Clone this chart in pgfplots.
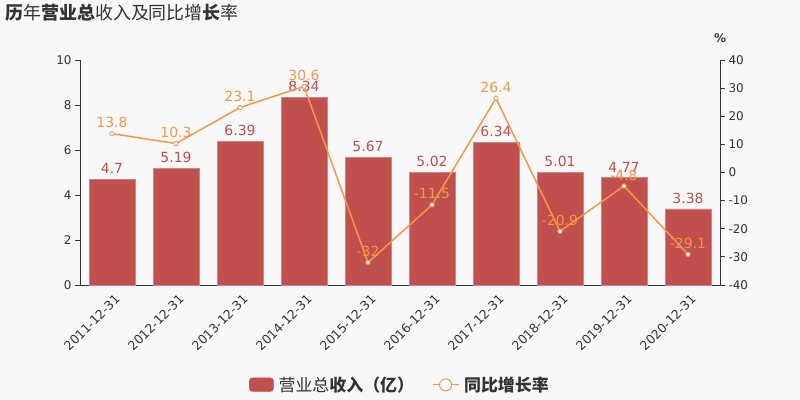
\documentclass[border=0pt]{standalone}
\usepackage{pgfplots}
\pgfplotsset{compat=1.18}
\usepackage{fontspec}
\setmainfont{DejaVu Sans}
\newfontfamily\cjk{Noto Sans CJK SC}

\definecolor{bg}{HTML}{F8F8F8}
\definecolor{barred}{HTML}{C0504D}
\definecolor{lineor}{HTML}{F79646}
\definecolor{axgray}{HTML}{333333}

\begin{document}
\begin{tikzpicture}
\fill[bg] (0,0) rectangle (800bp,400bp);

\pgfplotsset{
  base/.style={
    scale only axis, width=640bp, height=225bp,
    at={(80bp,115bp)}, anchor=south west,
    xmin=-0.5, xmax=9.5, clip=false,
    /pgf/number format/assume math mode=true,
    axis line style={axgray, line width=0.8pt},
    tick style={axgray, line width=0.8pt},
    tick align=outside,
    major tick length=5bp,
    tick label style={font=\fontsize{12}{14}\selectfont, text=axgray},
  },
}

\begin{axis}[base,
    axis x line*=bottom, axis y line*=left,
    ymin=0, ymax=10, ytick={0,2,...,10},
    xtick={0,...,9},
    xticklabels={2011-12-31,2012-12-31,2013-12-31,2014-12-31,2015-12-31,2016-12-31,2017-12-31,2018-12-31,2019-12-31,2020-12-31},
    x tick style={draw=none},
    extra x ticks={-0.5,0.5,...,9.5},
    extra x tick labels={},
    extra x tick style={x tick style={axgray, line width=0.8pt}, major tick length=5bp},
    xticklabel style={rotate=45, anchor=north east, inner sep=1bp, yshift=-3bp,
      font=\fontsize{12.5}{14}\selectfont},
    ybar, bar width=46bp,
    nodes near coords,
    every node near coord/.append style={font=\fontsize{14}{16}\selectfont, text=barred, yshift=2bp},
  ]
\addplot[fill=barred, draw=barred!70!white, line width=0.4pt] coordinates {
 (0,4.7) (1,5.19) (2,6.39) (3,8.34) (4,5.67) (5,5.02) (6,6.34) (7,5.01) (8,4.77) (9,3.38)};
\end{axis}

\begin{axis}[base,
    axis x line=none, axis y line*=right,
    ymin=-40, ymax=40, ytick={-40,-30,...,40},
    nodes near coords,
    nodes near coords align={anchor=south},
    every node near coord/.append style={font=\fontsize{14}{16}\selectfont, text=lineor, anchor=south, yshift=2bp},
    legend style={at={(0.5,-0.444)}, anchor=center, draw=none, fill=none,
      legend columns=2, font=\cjk\fontsize{17}{19}\selectfont, text=axgray,
      /tikz/every odd column/.append style={column sep=3bp},
      /tikz/every even column/.append style={column sep=16bp}},
  ]
\addlegendimage{legend image code/.code={\fill[barred, rounded corners=3bp] (0bp,-6.5bp) rectangle (24bp,7bp);}}
\addlegendentry{营业总\textbf{收入（亿）}}
\addplot[color=lineor, line width=1.5pt, mark=*, mark size=2.2pt,
  mark options={fill=white, draw=lineor, line width=0.8pt},
  legend image code/.code={\draw[lineor, line width=1pt] (0bp,0bp) -- (26bp,0bp);
    \draw[lineor, fill=white, line width=1pt] (13bp,0bp) circle (6bp);}]
 coordinates {(0,13.8) (1,10.3) (2,23.1) (3,30.6) (4,-32) (5,-11.5) (6,26.4) (7,-20.9) (8,-4.8) (9,-29.1)};
\addlegendentry{\textbf{同比增长率}}
\end{axis}

\node[anchor=west, text=axgray, font=\cjk\fontsize{18}{20}\selectfont] at (2bp,387bp)
  {\textbf{历}年\textbf{营业总}收入及同比增\textbf{长}率};
\node[text=axgray, font=\bfseries\fontsize{12}{14}\selectfont] at (720bp,362bp) {\%};
\end{tikzpicture}
\end{document}
